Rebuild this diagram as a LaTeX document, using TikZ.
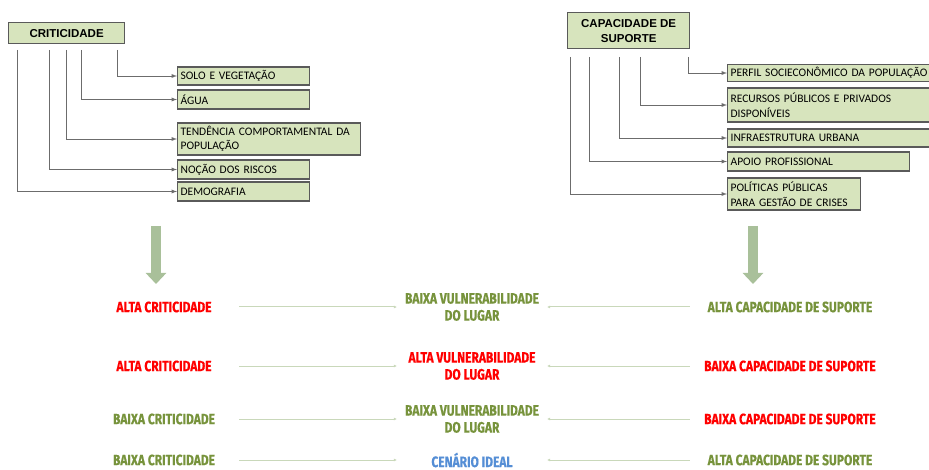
\documentclass[tikz,border=0pt]{standalone}
\usepackage{fontspec}
\usepackage{xcolor}
\usepackage{tikz}
\usetikzlibrary{arrows.meta}

\setmainfont{Carlito}
\newfontfamily\titulo{Liberation Sans}
\newfontfamily\destaque[FakeStretch=0.8,FakeBold=0.6]{Fira Sans}

\definecolor{vermelho}{HTML}{FF0000}
\definecolor{oliva}{HTML}{77933C}
\definecolor{azul}{HTML}{558ED5}
\definecolor{caixaverde}{HTML}{D7E4BD}
\definecolor{contorno}{HTML}{5A5A5A}
\definecolor{setaclara}{HTML}{C9D8BA}
\definecolor{setagrossa}{HTML}{A9C09A}

\tikzset{
  cabeca/.style={draw=contorno,fill=caixaverde,line width=1.3pt,anchor=north west,align=center,
    font=\titulo\bfseries\fontsize{11.5}{15}\selectfont},
  fator/.style={draw=contorno,fill=caixaverde,line width=1.2pt,anchor=west,align=left,
    inner xsep=3pt,inner ysep=1pt,font=\fontsize{11.5}{14.5}\selectfont},
  ligacao/.style={draw=gray!85!black,line width=0.9pt,-latex},
  resultado/.style={align=center,inner ysep=0pt,font=\destaque\bfseries\fontsize{15}{17}\selectfont},
  setafina/.style={draw=setaclara,line width=1pt,-{Latex[length=3pt,width=3pt]}},
  setagorda/.style={draw=setagrossa,line width=10pt,-{Triangle[width=20pt,length=11pt]}}
}

\begin{document}
\begin{tikzpicture}[x=1pt,y=-1pt]
    \useasboundingbox (0,0) rectangle (929,470);

    % criticidade
    \node[cabeca,minimum width=116pt,minimum height=21pt] (crit) at (8,22) {CRITICIDADE};
    \foreach \x/\y/\w/\h/\txt [count=\i] in {117/76/126/18/{SOLO E VEGETAÇÃO},
            81/99.5/126/19/{ÁGUA},
            66/139/177/32/{TENDÊNCIA COMPORTAMENTAL DA\\POPULAÇÃO},
            49/169.5/126/19/{NOÇÃO DOS RISCOS},
            17/191.5/126/19/{DEMOGRAFIA}} {
        \node[fator,text width=\w pt,minimum height=\h pt] (c\i) at (177,\y) {\txt};
        \coordinate (kc\i) at (\x,50);
        \draw[ligacao] (kc\i) |- (c\i.west);
    }

    % capacidade de suporte
    \node[cabeca,minimum width=122pt,minimum height=36pt,inner ysep=1pt] (cap) at (567,12) {CAPACIDADE DE\\SUPORTE};
    \foreach \x/\y/\w/\h/\txt [count=\i] in {688/73/212/17/{PERFIL SOCIECONÔMICO DA POPULAÇÃO},
            640/105/212/34/{RECURSOS PÚBLICOS E PRIVADOS\\DISPONÍVEIS},
            619/138/212/18/{INFRAESTRUTURA URBANA},
            589/161.5/176/19/{APOIO PROFISSIONAL},
            570/194/127/32/{POLÍTICAS PÚBLICAS\\PARA GESTÃO DE CRISES}} {
        \node[fator,text width=\w pt,minimum height=\h pt] (s\i) at (727,\y) {\txt};
        \coordinate (ks\i) at (\x,57);
        \draw[ligacao] (ks\i) |- (s\i.west);
    }

    % setas grandes
    \coordinate (ec1) at (156,226);
    \coordinate (ec2) at (156,284);
    \coordinate (es1) at (753,226);
    \coordinate (es2) at (753,284);
    \draw[setagorda] (ec1) -- (ec2);
    \draw[setagorda] (es1) -- (es2);

    % cenarios
    \foreach \y/\ca/\ta/\cb/\tb/\cc/\tc [count=\i] in {
            307/vermelho/{ALTA CRITICIDADE}/oliva/{BAIXA VULNERABILIDADE\\DO LUGAR}/oliva/{ALTA CAPACIDADE DE SUPORTE},
            366/vermelho/{ALTA CRITICIDADE}/vermelho/{ALTA VULNERABILIDADE\\DO LUGAR}/vermelho/{BAIXA CAPACIDADE DE SUPORTE},
            419/oliva/{BAIXA CRITICIDADE}/oliva/{BAIXA VULNERABILIDADE\\DO LUGAR}/vermelho/{BAIXA CAPACIDADE DE SUPORTE},
            460/oliva/{BAIXA CRITICIDADE}/azul/{CENÁRIO IDEAL}/oliva/{ALTA CAPACIDADE DE SUPORTE}} {
        \node[resultado,text=\ca,minimum width=150pt] (a\i) at (164,\y) {\ta};
        \node[resultado,text=\cb,minimum width=150pt] (v\i) at (472,\y) {\tb};
        \node[resultado,text=\cc,minimum width=200pt] (b\i) at (790,\y) {\tc};
        \draw[setafina] (a\i) -- (v\i);
        \draw[setafina] (b\i) -- (v\i);
    }
\end{tikzpicture}
\end{document}
